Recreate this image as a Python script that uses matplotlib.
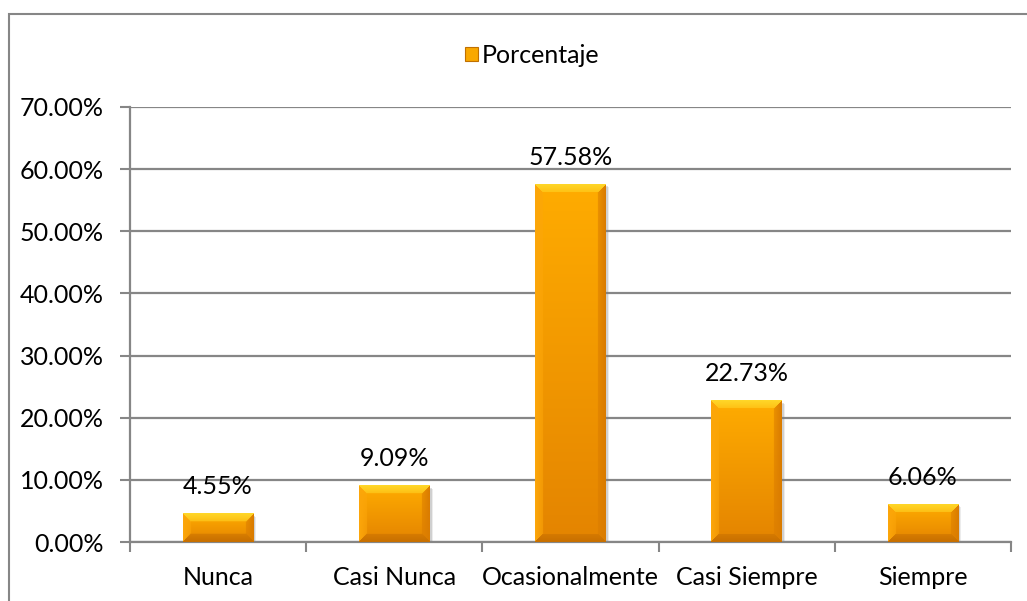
import numpy as np
import matplotlib.pyplot as plt
from matplotlib.patches import Rectangle, Patch
from matplotlib.transforms import ScaledTranslation

# data
categories = ["Nunca", "Casi Nunca", "Ocasionalmente", "Casi Siempre", "Siempre"]
porcentaje = [4.55, 9.09, 57.58, 22.73, 6.06]
value_labels = ["4.55%", "9.09%", "57.58%", "22.73%", "6.06%"]
y_ticks = [0, 10, 20, 30, 40, 50, 60, 70]

plt.rcParams["font.family"] = ["Lato", "DejaVu Sans"]
plt.rcParams["font.size"] = 18

grid_col = "#868686"

fig = plt.figure(figsize=(10.27, 6.01), dpi=100)
ax = fig.add_axes([130 / 1027, 1 - 542 / 601, 881 / 1027, 435 / 601])

x = np.arange(len(categories))
bars = ax.bar(x, porcentaje, width=0.40, color="#F9A100", zorder=3)

ax.set_xlim(-0.5, len(categories) - 0.5)
ax.set_ylim(0, 70)
ax.set_yticks(y_ticks)
ax.set_yticklabels([f"{v:.2f}%" for v in y_ticks])
ax.yaxis.grid(True, color=grid_col, linewidth=1.6, zorder=0)
ax.set_axisbelow(True)

# x ticks between categories, labels centered
ax.set_xticks(np.arange(-0.5, len(categories), 1.0))
ax.set_xticklabels([])
ax.set_xticks(x, minor=True)
ax.set_xticklabels(categories, minor=True)
ax.tick_params(axis="x", which="major", length=7, width=1.5, color=grid_col)
ax.tick_params(axis="x", which="minor", length=0, pad=17)
ax.tick_params(axis="y", length=7, width=1.5, color=grid_col, pad=12)

for s in ["top", "right"]:
    ax.spines[s].set_visible(False)
for s in ["left", "bottom"]:
    ax.spines[s].set_color(grid_col)
    ax.spines[s].set_linewidth(1.6)

# bevelled gradient fill on each bar
fig.canvas.draw()
top_c = np.array([255, 172, 0]) / 255
bot_c = np.array([228, 132, 0]) / 255
bev_top = np.array([255, 214, 40]) / 255
bev_bot = np.array([200, 112, 0]) / 255
bev_left = np.array([252, 166, 10]) / 255
bev_right = np.array([218, 124, 0]) / 255
b = 8
for bar in bars:
    x0, y0 = bar.get_x(), bar.get_y()
    w, h = bar.get_width(), bar.get_height()
    (px0, py0), (px1, py1) = ax.transData.transform([(x0, y0), (x0 + w, y0 + h)])
    wp, hp = max(int(round(px1 - px0)), 2), max(int(round(py1 - py0)), 2)
    ii, jj = np.mgrid[0:hp, 0:wp]
    t = (ii / (hp - 1))[..., None]
    img = top_c * (1 - t) + bot_c * t
    dt, db, dl, dr = ii, hp - 1 - ii, jj, wp - 1 - jj
    dmin = np.minimum(np.minimum(dt, db), np.minimum(dl, dr))
    edge = dmin < b
    fade = (dmin / b)[..., None]
    face = np.zeros_like(img)
    face[dt == dmin] = bev_top
    m = (db == dmin) & (dt != dmin)
    face[m] = bev_bot
    m = (dl == dmin) & (dt != dmin) & (db != dmin)
    face[m] = bev_left
    m = (dr == dmin) & (dt != dmin) & (db != dmin) & (dl != dmin)
    face[m] = bev_right
    blend = face * (1 - 0.5 * fade) + img * 0.5 * fade
    img = np.where(edge[..., None], blend, img)
    # soft shadow
    for k, a in [(3, 0.15), (2, 0.25)]:
        ax.add_patch(Rectangle((x0, y0), w, h, facecolor="#808080", alpha=a, edgecolor="none",
                               zorder=2, transform=ax.transData + ScaledTranslation(k / 100, -k / 100, fig.dpi_scale_trans)))
    ax.imshow(img, extent=(x0, x0 + w, y0, y0 + h), aspect="auto", zorder=4, interpolation="bilinear")

ax.set_xlim(-0.5, len(categories) - 0.5)
ax.set_ylim(0, 70)

for xi, v, lab in zip(x, porcentaje, value_labels):
    ax.annotate(lab, (xi, v), xytext=(0, 11), textcoords="offset points",
                ha="center", va="bottom", fontsize=18, color="#000000", zorder=5)

# legend
handle = Patch(facecolor="#F9A800", edgecolor="#C07000", linewidth=0.8)
fig.legend([handle], ["Porcentaje"], loc="center", bbox_to_anchor=(0.518, 0.908),
           frameon=False, handlelength=0.5, handleheight=0.5, handletextpad=0.15, fontsize=18)

# chart area border
fig.patches.append(Rectangle((9 / 1027, -0.05), 1.1, 1.05 - 14 / 601, transform=fig.transFigure,
                             fill=False, edgecolor=grid_col, linewidth=1.5))

fig.savefig("out.png", dpi=100)
